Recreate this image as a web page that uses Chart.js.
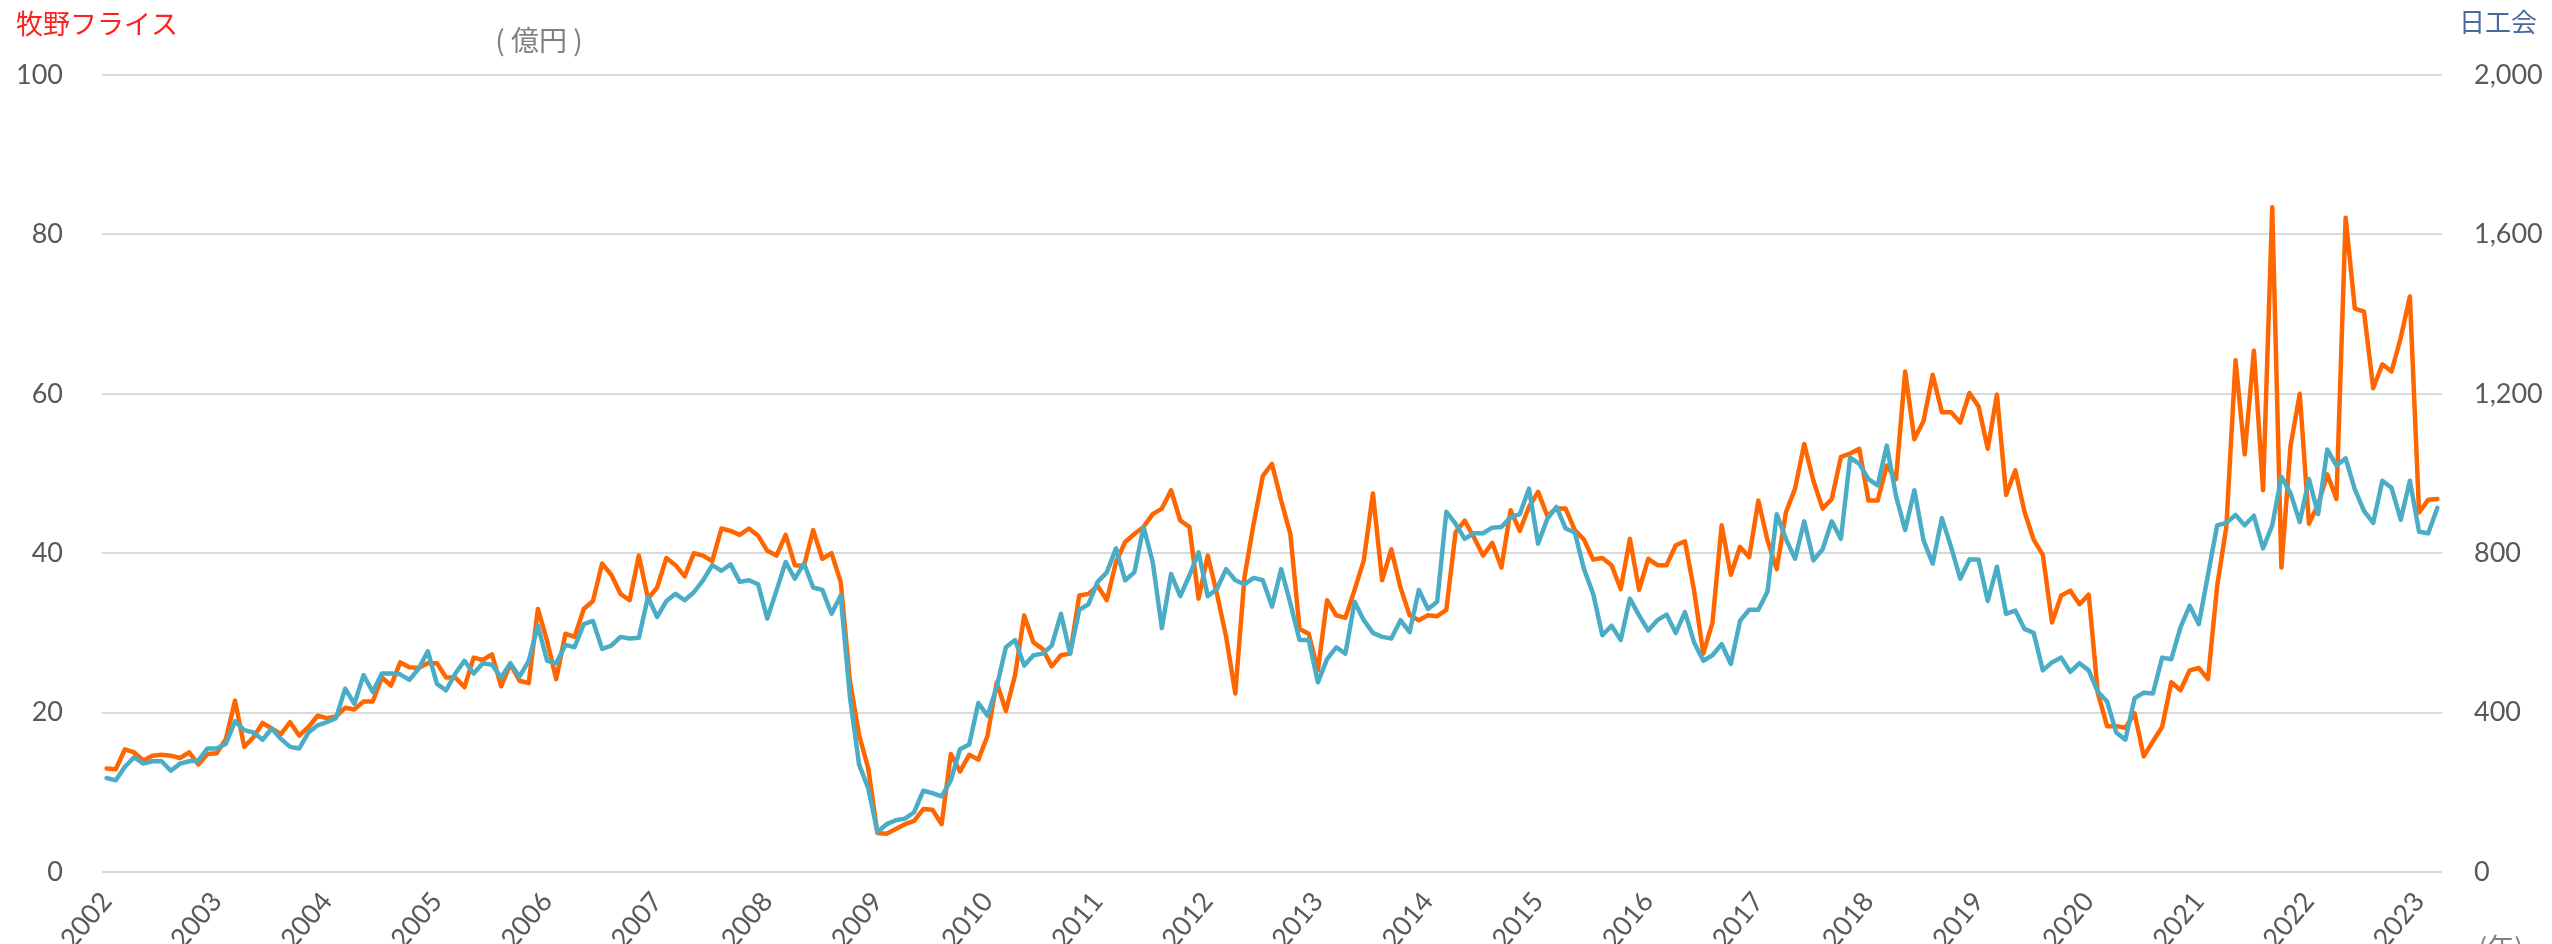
<!DOCTYPE html>
<html lang="ja">
<head>
    <meta charset="UTF-8">
    <title>牧野フライス 受注と日工会</title>
    <script src="https://cdn.jsdelivr.net/npm/chart.js"></script>
    <style>
        body { margin: 0; background: #fff; }
        #wrap { width: 2552px; height: 944px; }
    </style>
</head>
<body>
<div id="wrap">
    <canvas id="myChart" width="2552" height="944"></canvas>
</div>
<script>
// 月次データ 2002年1月〜2023年3月
const startYear = 2002;
const monthCount = 255;

// 牧野フライス 受注額（億円、左軸）
const makino = [
    13.0, 12.9, 15.4, 15.0, 14.0, 14.6, 14.7, 14.6, 14.3, 15.0,
    13.5, 14.8, 14.9, 16.7, 21.5, 15.7, 16.9, 18.7, 18.0, 17.3,
    18.8, 17.1, 18.2, 19.6, 19.3, 19.5, 20.6, 20.4, 21.4, 21.4,
    24.4, 23.4, 26.3, 25.7, 25.6, 26.2, 26.2, 24.4, 24.4, 23.2,
    26.9, 26.6, 27.3, 23.3, 26.1, 24.0, 23.7, 33.0, 29.0, 24.2,
    29.9, 29.5, 33.0, 34.0, 38.7, 37.3, 34.9, 34.1, 39.7, 34.3,
    35.7, 39.4, 38.5, 37.1, 40.0, 39.7, 39.0, 43.1, 42.8, 42.3,
    43.1, 42.2, 40.3, 39.7, 42.3, 38.5, 38.4, 42.9, 39.3, 40.0,
    36.4, 24.0, 17.2, 13.0, 4.9, 4.8, 5.4, 6.0, 6.4, 7.9,
    7.8, 6.0, 14.8, 12.6, 14.7, 14.1, 17.1, 23.8, 20.2, 24.7,
    32.2, 28.8, 28.0, 25.8, 27.2, 27.4, 34.7, 34.9, 35.9, 34.1,
    38.9, 41.4, 42.4, 43.3, 44.9, 45.6, 47.9, 44.1, 43.3, 34.3,
    39.7, 34.9, 29.5, 22.4, 37.0, 43.7, 49.7, 51.2, 46.6, 42.4,
    30.5, 29.9, 25.3, 34.1, 32.2, 31.9, 35.4, 39.1, 47.5, 36.6,
    40.5, 35.7, 32.2, 31.6, 32.2, 32.1, 32.9, 42.6, 44.1, 42.0,
    39.7, 41.3, 38.2, 45.4, 42.8, 45.8, 47.7, 44.7, 45.6, 45.6,
    42.9, 41.7, 39.2, 39.4, 38.5, 35.5, 41.8, 35.4, 39.3, 38.5,
    38.5, 41.0, 41.5, 35.3, 27.4, 31.3, 43.5, 37.3, 40.8, 39.5,
    46.6, 41.6, 38.0, 45.1, 48.1, 53.7, 49.1, 45.6, 46.8, 52.1,
    52.5, 53.1, 46.6, 46.6, 51.0, 49.3, 62.8, 54.3, 56.6, 62.4,
    57.7, 57.7, 56.4, 60.1, 58.4, 53.1, 59.9, 47.3, 50.4, 45.2,
    41.7, 39.8, 31.3, 34.7, 35.3, 33.6, 34.8, 22.4, 18.3, 18.3,
    18.1, 19.9, 14.5, 16.4, 18.2, 23.8, 22.8, 25.3, 25.6, 24.2,
    35.9, 43.3, 64.2, 52.4, 65.4, 47.9, 83.4, 38.2, 53.5, 60.0,
    43.7, 46.1, 49.9, 46.8, 82.1, 70.7, 70.3, 60.7, 63.7, 62.8,
    67.0, 72.2, 45.1, 46.7, 46.8
];

// 日工会 工作機械受注額（億円、右軸）
const nikkokai = [
    236, 230, 264, 288, 272, 278, 278, 254, 272, 278,
    280, 310, 310, 322, 378, 356, 350, 332, 360, 334,
    314, 310, 350, 368, 376, 386, 460, 422, 494, 452,
    498, 498, 496, 482, 510, 554, 472, 456, 498, 530,
    498, 524, 520, 488, 524, 490, 530, 618, 530, 524,
    570, 564, 622, 630, 560, 568, 590, 586, 588, 690,
    640, 680, 698, 682, 702, 732, 770, 756, 772, 728,
    732, 722, 636, 706, 778, 736, 774, 714, 708, 648,
    694, 440, 270, 210, 100, 120, 130, 134, 150, 204,
    198, 190, 230, 308, 320, 424, 392, 464, 564, 582,
    518, 544, 548, 568, 648, 548, 658, 672, 728, 752,
    812, 732, 752, 866, 778, 612, 748, 692, 744, 802,
    692, 710, 760, 732, 722, 738, 732, 666, 760, 674,
    582, 582, 476, 534, 564, 548, 678, 632, 600, 590,
    586, 632, 602, 708, 660, 678, 904, 874, 836, 850,
    850, 864, 866, 890, 898, 962, 824, 886, 916, 862,
    852, 760, 698, 594, 618, 582, 686, 644, 606, 632,
    646, 600, 652, 576, 530, 544, 572, 522, 630, 658,
    658, 704, 898, 836, 786, 880, 782, 810, 880, 836,
    1040, 1024, 986, 970, 1070, 944, 858, 958, 832, 774,
    888, 816, 736, 784, 784, 680, 766, 648, 656, 610,
    600, 506, 526, 538, 502, 524, 506, 452, 428, 350,
    332, 436, 450, 448, 538, 534, 614, 668, 622, 746,
    870, 876, 896, 870, 894, 812, 870, 992, 950, 878,
    986, 898, 1060, 1020, 1038, 960, 906, 876, 982, 964,
    884, 982, 854, 850, 914
];

// 軸目盛
const leftTicks = [0, 20, 40, 60, 80, 100];
const rightTicks = [0, 400, 800, 1200, 1600, 2000];

const months = [];
for (let i = 0; i < monthCount; i++) {
    const y = startYear + Math.floor(i / 12);
    const m = (i % 12) + 1;
    months.push(y + '/' + m);
}

const tickFont = { family: "Lato, 'Noto Sans', sans-serif", size: 27 };
const tickColor = '#595959';

// 見出しなどのテキスト
const textPlugin = {
    id: 'texts',
    afterDraw(chart) {
        const ctx = chart.ctx;
        ctx.save();
        ctx.textBaseline = 'top';
        ctx.textAlign = 'left';
        ctx.font = "27px 'Noto Sans CJK JP'";
        ctx.fillStyle = '#ff1f1f';
        ctx.fillText('牧野フライス', 16, 10);

        ctx.fillStyle = '#808080';
        ctx.textAlign = 'center';
        ctx.font = "28px 'Noto Sans CJK JP'";
        ctx.fillText('(', 500, 26);
        ctx.fillText('億円', 539, 26);
        ctx.fillText(')', 578, 26);

        ctx.textAlign = 'left';
        ctx.font = "26px 'Noto Sans CJK JP'";
        ctx.fillStyle = '#4a6a9e';
        ctx.fillText('日工会', 2459, 9);

        ctx.fillStyle = '#808080';
        ctx.font = "27px 'Noto Sans CJK JP'";
        ctx.fillText('(年)', 2478, 934);
        ctx.restore();
    }
};

const data = {
    labels: months,
    datasets: [
        {
            label: '日工会',
            data: nikkokai,
            yAxisID: 'y1',
            borderColor: '#4bacc6',
            borderWidth: 4.5,
            order: 0
        },
        {
            label: '牧野フライス',
            data: makino,
            yAxisID: 'y',
            borderColor: '#ff6600',
            borderWidth: 4.5,
            order: 1
        }
    ]
};

const config = {
    type: 'line',
    data: data,
    options: {
        responsive: false,
        animation: false,
        layout: { padding: { top: 75, left: 0, right: 0, bottom: 0 } },
        elements: {
            point: { radius: 0 },
            line: { tension: 0, borderJoinStyle: 'round', borderCapStyle: 'round' }
        },
        plugins: {
            legend: { display: false },
            tooltip: { enabled: false }
        },
        scales: {
            x: {
                offset: true,
                grid: { display: false },
                border: { display: false },
                ticks: {
                    autoSkip: false,
                    minRotation: 50,
                    maxRotation: 50,
                    padding: 6,
                    color: tickColor,
                    font: tickFont,
                    callback: function (val, idx) {
                        return idx % 12 === 0 ? String(startYear + idx / 12) : '';
                    }
                },
                afterFit(scale) { scale.height = 72; }
            },
            y: {
                position: 'left',
                min: leftTicks[0],
                max: leftTicks[leftTicks.length - 1],
                grid: { color: '#d9d9d9', lineWidth: 2, drawTicks: false },
                border: { display: false },
                afterBuildTicks(scale) { scale.ticks = leftTicks.map(v => ({ value: v })); },
                ticks: { padding: 39, color: tickColor, font: tickFont },
                afterFit(scale) { scale.width = 102; }
            },
            y1: {
                position: 'right',
                min: rightTicks[0],
                max: rightTicks[rightTicks.length - 1],
                grid: { display: false, drawTicks: false },
                border: { display: false },
                afterBuildTicks(scale) { scale.ticks = rightTicks.map(v => ({ value: v })); },
                ticks: {
                    padding: 32,
                    color: tickColor,
                    font: tickFont,
                    callback: v => v.toLocaleString('en-US')
                },
                afterFit(scale) { scale.width = 110; }
            }
        }
    },
    plugins: [textPlugin]
};

const myChart = new Chart(document.querySelector('#myChart'), config);
</script>
</body>
</html>
